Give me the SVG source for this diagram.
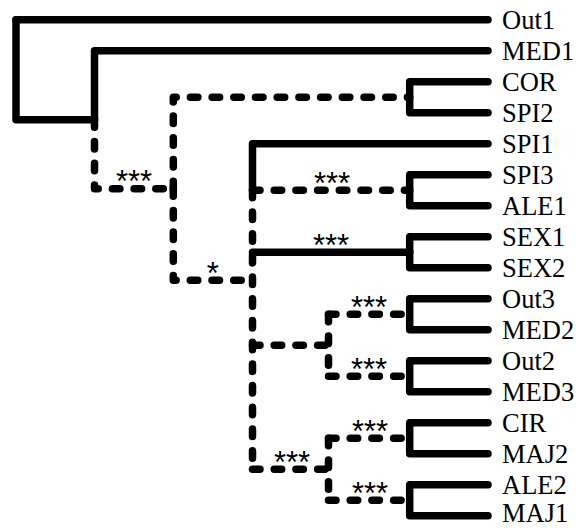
<svg xmlns="http://www.w3.org/2000/svg" width="576" height="528" viewBox="0 0 576 528">
<style>
.s{fill:none;stroke:#000;stroke-width:7.5;stroke-linecap:round;stroke-linejoin:round}
.d{fill:none;stroke:#000;stroke-width:7.5;stroke-linecap:round;stroke-linejoin:round;stroke-dasharray:7.5 14.2}
.leaf{font-family:"Liberation Serif","Times New Roman",serif;font-size:26.5px;fill:#000}
.sig{font-family:"Liberation Sans",Arial,sans-serif;font-size:31px;fill:#000;text-anchor:middle}
</style>
<rect width="576" height="528" fill="#fff"/>
<g id="connectors">
<path class="s" d="M16 19.8H488"/>
<path class="s" d="M16 19.8V119.8H94.5"/>
<path class="s" d="M94.5 119.8V50.8H488"/>
<path class="d" d="M94.5 119.8V188.7H173.3"/>
<path class="d" d="M173.3 188.7V97.3H409.7"/>
<path class="s" d="M488 81.8H409.7V112.8H488"/>
<path class="d" d="M173.3 188.7V280.2H252.5"/>
<path class="s" d="M252.5 190.3V143.8H488"/>
<path class="d" d="M252.5 190.3H409.7"/>
<path class="s" d="M488 174.8H409.7V205.8H488"/>
<path class="d" d="M252.5 190.3V469.3"/>
<path class="s" d="M252.5 252.3H409.7"/>
<path class="s" d="M488 236.8H409.7V267.8H488"/>
<path class="d" d="M252.5 345.3H328.5"/>
<path class="d" d="M328.5 314.3V376.3"/>
<path class="d" d="M328.5 314.3H409.7"/>
<path class="d" d="M328.5 376.3H409.7"/>
<path class="s" d="M488 298.8H409.7V329.8H488"/>
<path class="s" d="M488 360.8H409.7V391.8H488"/>
<path class="d" d="M252.5 469.3H328.5"/>
<path class="d" d="M328.5 438.3V500.3"/>
<path class="d" d="M328.5 438.3H409.7"/>
<path class="d" d="M328.5 500.3H409.7"/>
<path class="s" d="M488 422.8H409.7V453.8H488"/>
<path class="s" d="M488 484.8H409.7V515.8H488"/>
<text class="sig" x="134" y="192">***</text>
<text class="sig" x="332" y="193.6">***</text>
<text class="sig" x="331" y="255.6">***</text>
<text class="sig" x="212.9" y="283.5">*</text>
<text class="sig" x="369" y="317.6">***</text>
<text class="sig" x="369" y="379.6">***</text>
<text class="sig" x="292" y="472.6">***</text>
<text class="sig" x="370" y="441.6">***</text>
<text class="sig" x="370" y="503.6">***</text>
</g>
<g id="n-Out1"><text class="leaf" x="502" y="28.8">Out1</text></g>
<g id="n-MED1"><text class="leaf" x="502" y="59.8">MED1</text></g>
<g id="n-COR"><text class="leaf" x="502" y="90.8">COR</text></g>
<g id="n-SPI2"><text class="leaf" x="502" y="121.8">SPI2</text></g>
<g id="n-SPI1"><text class="leaf" x="502" y="152.8">SPI1</text></g>
<g id="n-SPI3"><text class="leaf" x="502" y="183.8">SPI3</text></g>
<g id="n-ALE1"><text class="leaf" x="502" y="214.8">ALE1</text></g>
<g id="n-SEX1"><text class="leaf" x="502" y="245.8">SEX1</text></g>
<g id="n-SEX2"><text class="leaf" x="502" y="276.8">SEX2</text></g>
<g id="n-Out3"><text class="leaf" x="502" y="307.8">Out3</text></g>
<g id="n-MED2"><text class="leaf" x="502" y="338.8">MED2</text></g>
<g id="n-Out2"><text class="leaf" x="502" y="369.8">Out2</text></g>
<g id="n-MED3"><text class="leaf" x="502" y="400.8">MED3</text></g>
<g id="n-CIR"><text class="leaf" x="502" y="431.8">CIR</text></g>
<g id="n-MAJ2"><text class="leaf" x="502" y="462.8">MAJ2</text></g>
<g id="n-ALE2"><text class="leaf" x="502" y="493.8">ALE2</text></g>
<g id="n-MAJ1"><text class="leaf" x="502" y="521.5">MAJ1</text></g>
</svg>
